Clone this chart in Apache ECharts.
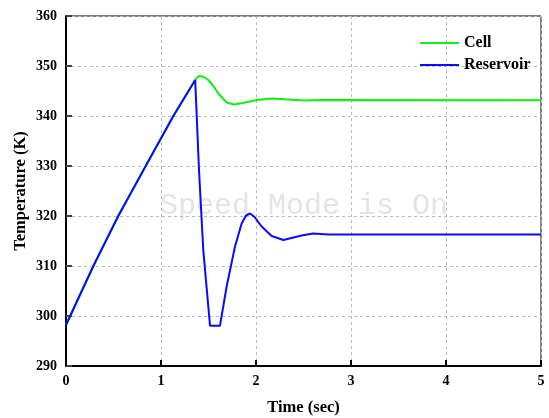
<!DOCTYPE html>
<html>
<head>
<meta charset="utf-8">
<script src="https://cdn.jsdelivr.net/npm/echarts@6/dist/echarts.min.js"></script>
<style>
  html, body { margin: 0; padding: 0; background: #fff; }
  #main { width: 549px; height: 418px; }
</style>
</head>
<body>
<div id="main"></div>
<script>
// values
let cellTime = [0, 0.288, 0.55, 0.839, 1.13, 1.36, 1.385, 1.41, 1.45, 1.498, 1.55, 1.603, 1.691, 1.772, 1.884, 2.007, 2.165, 2.34, 2.516, 2.69, 5]
let cellTemp = [298.2, 310, 320, 330, 340, 347.2, 347.8, 348.0, 347.8, 347.2, 346.0, 344.5, 342.7, 342.3, 342.7, 343.2, 343.5, 343.3, 343.1, 343.2, 343.15]

let resTime = [0, 0.288, 0.55, 0.839, 1.13, 1.36, 1.4, 1.445, 1.516, 1.621, 1.691, 1.779, 1.849, 1.895, 1.937, 1.985, 2.06, 2.165, 2.288, 2.48, 2.6, 2.76, 5]
let resTemp = [298.2, 310, 320, 330, 340, 347.2, 329.2, 313.2, 298.06, 298.06, 305.9, 313.9, 318.5, 320.1, 320.5, 319.8, 317.9, 316.0, 315.2, 316.1, 316.5, 316.3, 316.3]

let xTicks = [0, 1, 2, 3, 4, 5]
let yTicks = [290, 300, 310, 320, 330, 340, 350, 360]

const font = '"Liberation Serif", "Times New Roman", serif'

function pairs(xs, ys) {
  return xs.map((x, i) => [x, ys[i]])
}

let chart = echarts.init(document.getElementById('main'))
let option = {
  animation: false,
  backgroundColor: '#fff',
  grid: {
    left: 66,
    right: 8,
    top: 16,
    bottom: 52,
    outerBoundsMode: 'none',
    show: true,
    borderColor: '#000',
    borderWidth: 1
  },
  legend: {
    orient: 'vertical',
    left: 415,
    top: 30,
    itemGap: 6,
    itemWidth: 39,
    itemHeight: 2,
    icon: 'rect',
    textStyle: { fontFamily: font, fontWeight: 'bold', fontSize: 16, color: '#000' },
    data: ['Cell', 'Reservoir']
  },
  graphic: [{
    type: 'text',
    left: 160,
    top: 191,
    z: 0,
    silent: true,
    style: {
      text: 'Speed Mode is On',
      font: '30px "Liberation Mono", "Courier New", monospace',
      fill: '#e4e4e4'
    }
  }],
  xAxis: {
    type: 'value',
    min: xTicks[0],
    max: xTicks[xTicks.length - 1],
    interval: 1,
    name: 'Time (sec)',
    nameLocation: 'middle',
    nameGap: 33,
    nameMoveOverlap: false,
    nameTextStyle: { fontFamily: font, fontWeight: 'bold', fontSize: 16.5, color: '#000' },
    axisLine: { show: true, lineStyle: { color: '#000', width: 2 } },
    axisTick: { show: true, inside: true, length: 6, lineStyle: { color: '#000', width: 2 } },
    axisLabel: { margin: 8, fontFamily: font, fontWeight: 'bold', fontSize: 14, color: '#000' },
    splitLine: { show: true, lineStyle: { color: '#bbb', width: 1, type: [3, 3] } }
  },
  yAxis: {
    type: 'value',
    min: yTicks[0],
    max: yTicks[yTicks.length - 1],
    interval: 10,
    name: 'Temperature (K)',
    nameLocation: 'middle',
    nameGap: 37,
    nameMoveOverlap: false,
    nameTextStyle: { fontFamily: font, fontWeight: 'bold', fontSize: 16.5, color: '#000' },
    axisLine: { show: true, lineStyle: { color: '#000', width: 2 } },
    axisTick: { show: true, inside: true, length: 6, lineStyle: { color: '#444', width: 2 } },
    axisLabel: { margin: 9, fontFamily: font, fontWeight: 'bold', fontSize: 14, color: '#000' },
    splitLine: { show: true, lineStyle: { color: '#bbb', width: 1, type: [3, 3] } }
  },
  series: [
    {
      name: 'Cell',
      type: 'line',
      data: pairs(cellTime, cellTemp),
      showSymbol: false,
      symbol: 'none',
      color: '#11ee11',
      lineStyle: { color: '#11ee11', width: 2 },
      z: 2
    },
    {
      name: 'Reservoir',
      type: 'line',
      data: pairs(resTime, resTemp),
      showSymbol: false,
      symbol: 'none',
      color: '#0a0aff',
      lineStyle: { color: '#0a0aff', width: 2 },
      z: 3
    }
  ]
}
chart.setOption(option)
</script>
</body>
</html>
